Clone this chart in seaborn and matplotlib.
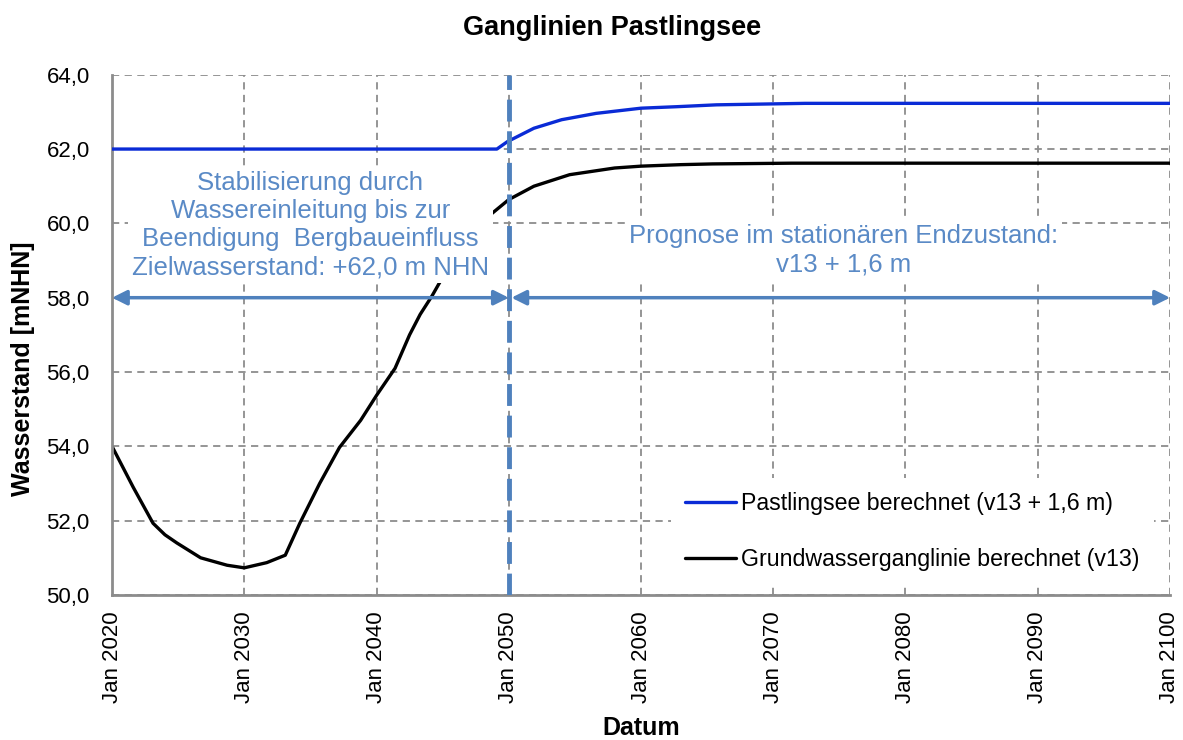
import numpy as np
import pandas as pd
import matplotlib
matplotlib.use("Agg")
import matplotlib.pyplot as plt
from matplotlib.ticker import FuncFormatter
import seaborn as sns

# -----------------------------------
# Data
# -----------------------------------
see_years = [2020, 2049.1, 2049.9, 2051.9, 2054.0, 2056.6, 2060.0, 2062.7, 2065.7, 2072.4, 2100]
see_level = [62.0, 62.0, 62.2, 62.56, 62.79, 62.96, 63.1, 63.14, 63.19, 63.23, 63.23]

gw_years = [2020, 2021.6, 2023.1, 2024.0, 2024.9, 2026.7, 2028.7, 2030.0, 2031.7, 2033.1, 2034.2,
            2035.7, 2037.2, 2038.8, 2040.0, 2041.4, 2042.5, 2043.3, 2044.2, 2045.0, 2046.0,
            2047.0, 2048.0, 2048.5, 2050.0, 2051.9, 2054.6, 2058.0, 2060.0, 2063.0, 2065.4,
            2071.4, 2100]
gw_level = [54.0, 52.9, 51.93, 51.62, 51.4, 51.0, 50.8, 50.73, 50.87, 51.07, 51.93,
            53.0, 53.97, 54.7, 55.37, 56.1, 57.0, 57.55, 58.05, 58.55, 59.1,
            59.6, 60.05, 60.2, 60.64, 61.0, 61.31, 61.49, 61.54, 61.58, 61.6,
            61.62, 61.62]

see_label = "Pastlingsee berechnet (v13 + 1,6 m)"
gw_label = "Grundwasserganglinie berechnet (v13)"

x_ticks = [2020, 2030, 2040, 2050, 2060, 2070, 2080, 2090, 2100]
x_tick_labels = ["Jan " + str(y) for y in x_ticks]
y_ticks = [50, 52, 54, 56, 58, 60, 62, 64]

text_left = "Stabilisierung durch\nWassereinleitung bis zur\nBeendigung  Bergbaueinfluss\nZielwasserstand: +62,0 m NHN"
text_right = "Prognose im stationären Endzustand:\nv13 + 1,6 m"

# -----------------------------------
# Long table for seaborn
# -----------------------------------
df = pd.concat([
    pd.DataFrame({"Jahr": see_years, "Wasserstand": see_level, "Reihe": see_label}),
    pd.DataFrame({"Jahr": gw_years, "Wasserstand": gw_level, "Reihe": gw_label}),
])

sns.set_style("white")
plt.rcParams["font.family"] = ["Liberation Sans", "DejaVu Sans"]
plt.rcParams["text.color"] = "black"
plt.rcParams["axes.labelcolor"] = "black"

fig = plt.figure(figsize=(11.83, 7.40), dpi=100)
ax = fig.add_axes([0.0947, 0.196, 0.8943, 0.703])

anno_color = "#4F81BD"
text_color = "#5A8AC6"
grid_color = "#8c8c8c"

sns.lineplot(
    data=df, x="Jahr", y="Wasserstand", hue="Reihe",
    palette={see_label: "#0a2bd6", gw_label: "black"},
    linewidth=2.4, ax=ax, legend=False, sort=False
)
lines = ax.get_lines()
lines[0].set_zorder(4)
lines[1].set_zorder(2)

# vertical marker + arrows
ax.axvline(2050, color=anno_color, lw=3.5, dashes=(4.5, 2), zorder=5)
ax.annotate("", xy=(2050, 58), xytext=(2020, 58),
            arrowprops=dict(arrowstyle="<|-|>", color=anno_color, lw=2.5,
                            mutation_scale=22, shrinkA=0, shrinkB=0), zorder=5)
ax.annotate("", xy=(2100, 58), xytext=(2050.2, 58),
            arrowprops=dict(arrowstyle="<|-|>", color=anno_color, lw=2.5,
                            mutation_scale=22, shrinkA=0, shrinkB=0), zorder=5)

ax.text(2035.0, 59.95, text_left, ha="center", va="center", fontsize=18.5,
        color=text_color, linespacing=1.22, zorder=3,
        bbox=dict(boxstyle="square,pad=0.15", fc="white", ec="none"))
ax.text(2075.3, 59.27, text_right, ha="center", va="center", fontsize=18.5,
        color=text_color, linespacing=1.22, zorder=3,
        bbox=dict(boxstyle="square,pad=0.15", fc="white", ec="none"))

# axes
ax.set_xlim(2020, 2100)
ax.set_ylim(50, 64)
ax.set_xticks(x_ticks)
ax.set_xticklabels(x_tick_labels, rotation=90)
ax.set_yticks(y_ticks)
ax.yaxis.set_major_formatter(FuncFormatter(lambda v, p: f"{v:.1f}".replace(".", ",")))

ax.grid(True, color=grid_color, linestyle=(0, (4, 3)), lw=1.3)
ax.set_axisbelow(True)
for side in ["top", "right"]:
    ax.spines[side].set_visible(False)
for side in ["left", "bottom"]:
    ax.spines[side].set_color(grid_color)
    ax.spines[side].set_linewidth(2)
ax.tick_params(axis="both", direction="out", length=7, width=1.5, color=grid_color,
               labelsize=16, labelcolor="black")
ax.tick_params(axis="y", pad=9)
ax.tick_params(axis="x", pad=5)

ax.set_xlabel("Datum", fontsize=18, fontweight="bold", color="black")
ax.set_ylabel("Wasserstand [mNHN]", fontsize=18, fontweight="bold", color="black")
ax.xaxis.set_label_coords(0.5, -0.232)
ax.yaxis.set_label_coords(-0.073, 0.434)

fig.text(0.517, 0.962, "Ganglinien Pastlingsee", ha="center", va="center",
         fontsize=19.5, fontweight="bold", color="black")

# legend
handles = [plt.Line2D([], [], color="#0a2bd6", lw=2.4),
           plt.Line2D([], [], color="black", lw=2.4)]
leg = ax.legend(handles, [see_label, gw_label], loc="center left",
                bbox_to_anchor=(0.517, 0.122), fontsize=16.7, frameon=True,
                labelspacing=1.4, handlelength=2.2, handletextpad=0.25,
                borderpad=0.6, fancybox=False)
leg.get_frame().set_facecolor("white")
leg.get_frame().set_edgecolor("none")
leg.get_frame().set_alpha(1)
leg.set_zorder(6)
for t in leg.get_texts():
    t.set_color("black")

plt.savefig("out.png", dpi=100)
